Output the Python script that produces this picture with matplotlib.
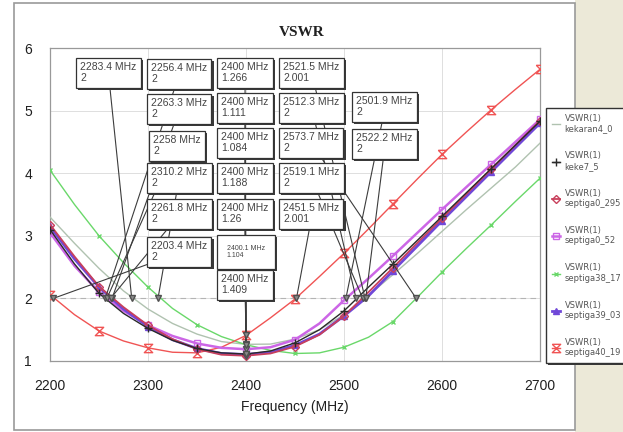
import matplotlib
matplotlib.use('Agg')
import matplotlib.pyplot as plt
import matplotlib.patheffects as pe
from matplotlib.patches import Rectangle

# frequency grid of the sweep (MHz)
freq = [2200, 2225, 2250, 2275, 2300, 2325, 2350, 2375, 2400, 2425, 2450,
        2475, 2500, 2525, 2550, 2575, 2600, 2625, 2650, 2675, 2700]

# VSWR values
kekaran4_0 = [3.30, 2.88, 2.48, 2.12, 1.83, 1.60, 1.43, 1.31, 1.266, 1.27, 1.35,
              1.50, 1.74, 2.05, 2.38, 2.72, 3.07, 3.42, 3.76, 4.10, 4.48]
keke7_5 = [3.10, 2.55, 2.08, 1.76, 1.52, 1.33, 1.20, 1.13, 1.111, 1.16, 1.29,
           1.50, 1.80, 2.18, 2.55, 2.93, 3.31, 3.69, 4.07, 4.45, 4.83]
septiga0_295 = [3.18, 2.67, 2.19, 1.86, 1.57, 1.35, 1.19, 1.10, 1.084, 1.12, 1.23,
                1.42, 1.72, 2.10, 2.49, 2.89, 3.28, 3.67, 4.06, 4.45, 4.84]
septiga0_52 = [3.05, 2.52, 2.10, 1.80, 1.57, 1.40, 1.28, 1.21, 1.188, 1.22, 1.34,
               1.60, 1.97, 2.32, 2.68, 3.05, 3.42, 3.78, 4.14, 4.50, 4.86]
septiga38_17 = [4.05, 3.50, 3.00, 2.57, 2.18, 1.84, 1.58, 1.39, 1.26, 1.17, 1.12,
                1.13, 1.22, 1.38, 1.63, 2.02, 2.42, 2.80, 3.17, 3.55, 3.92]
septiga39_03 = [3.15, 2.63, 2.18, 1.83, 1.55, 1.34, 1.20, 1.12, 1.104, 1.14, 1.25,
                1.43, 1.72, 2.04, 2.44, 2.84, 3.24, 3.63, 4.02, 4.41, 4.80]
septiga40_19 = [2.06, 1.74, 1.48, 1.32, 1.21, 1.14, 1.13, 1.22, 1.409, 1.69, 1.99,
                2.35, 2.72, 3.11, 3.51, 3.91, 4.30, 4.66, 5.01, 5.34, 5.66]

names = ['kekaran4_0', 'keke7_5', 'septiga0_295', 'septiga0_52',
         'septiga38_17', 'septiga39_03', 'septiga40_19']

# marker readouts
low_cross = [2283.4, 2256.4, 2263.3, 2258.0, 2310.2, 2261.8, 2203.4]
high_cross = [2521.5, 2512.3, 2573.7, 2519.1, 2451.5, 2501.9, 2522.2]
high_vals = ['2.001', '2', '2', '2', '2.001', '2', '2']
at_2400 = [1.266, 1.111, 1.084, 1.188, 1.26, 1.104, 1.409]

W, H = 623, 432
fig = plt.figure(figsize=(W / 100, H / 100), dpi=100)

# outer frame and beige panel on the right
fig.patches.append(Rectangle((575 / W, 0), 48 / W, 1, transform=fig.transFigure,
                             facecolor='#ece9d8', edgecolor='none', zorder=-2))
fig.patches.append(Rectangle((14 / W, 2 / H), 561 / W, 427 / H, transform=fig.transFigure,
                             facecolor='white', edgecolor='#9a9a9a', lw=1.2, zorder=-1))

ax = fig.add_axes([50 / W, 71 / H, 490 / W, 313 / H])
ax.patch.set_alpha(0)
ax.set_xlim(2200, 2700)
ax.set_ylim(1, 6)
ax.set_xticks([2200, 2300, 2400, 2500, 2600, 2700])
ax.set_yticks([1, 2, 3, 4, 5, 6])
ax.grid(True, color='#dedede', lw=0.7)
ax.set_axisbelow(True)
for s in ax.spines.values():
    s.set_color('#999999')
    s.set_linewidth(0.9)
ax.tick_params(length=0, labelsize=10)
ax.tick_params(axis='y', pad=13)
ax.tick_params(axis='x', pad=13)
for lab in ax.get_xticklabels() + ax.get_yticklabels():
    lab.set_fontfamily('Liberation Sans')
    lab.set_color('#202020')
ax.set_xlabel('Frequency (MHz)', fontsize=10, family='Liberation Sans', labelpad=5, color='#202020')
ax.axhline(2, color='#b4b4b4', lw=0.8, ls=(0, (5, 4)), zorder=1)

fig.text(302 / W, 1 - 32 / H, 'VSWR', ha='center', va='center', fontsize=11,
         family='Liberation Serif', weight='bold', color='#202020')

hourglass = [(-1, 1), (1, 1), (-1, -1), (1, -1), (-1, 1)]
styles = [
    dict(color='#b0c2b0', lw=1.0),
    dict(color='#2a2a2a', lw=1.0, marker='+', ms=6, markevery=2),
    dict(color='#c8405c', lw=1.3, marker='D', ms=4.5, mfc='none', markevery=2),
    dict(color='#cc66e6', lw=1.8, marker='s', ms=5, mfc='none', markevery=2),
    dict(color='#6ad86a', lw=1.0, marker='x', ms=3, markevery=2),
    dict(color='#7048d8', lw=2.0, marker='^', ms=5, markevery=2),
    dict(color='#f05454', lw=1.0, marker=hourglass, ms=6, mfc='none', markevery=2),
]
values = [kekaran4_0, keke7_5, septiga0_295, septiga0_52,
          septiga38_17, septiga39_03, septiga40_19]
order = [0, 4, 6, 3, 5, 2, 1]
lines = {}
for i in order:
    ln, = ax.plot(freq, values[i], label='VSWR(1)\n' + names[i], zorder=3, **styles[i])
    lines[i] = ln

# marker readout boxes: (top-left x, y in image pixels, box width)
low_pos = [(76, 58, 65), (147, 59, 64), (147, 94, 64), (149, 131, 53),
           (147, 163, 64), (147, 199, 64), (147, 237, 64)]
mid_pos = [(217, 58), (217, 93), (217, 128), (217, 163), (217, 199), (217, 235), (217, 270)]
high_pos = [(279, 58), (279, 93), (279, 128), (279, 163), (279, 199), (352, 92), (352, 129)]

shadow = [pe.SimplePatchShadow(offset=(1.6, -1.6), shadow_rgbFace='#3a3a3a', alpha=1.0), pe.Normal()]


def readout(txt, px, py, w, mx, my, size=7.5, pad=3):
    cx, cy = px + w / 2, H - (py + 16)
    ax.annotate('', xy=(mx, my), xytext=(cx, cy), textcoords='figure pixels',
                arrowprops=dict(arrowstyle='-', color='#3c3c3c', lw=0.8, shrinkA=0, shrinkB=0),
                zorder=4, annotation_clip=False)
    ax.plot([mx], [my], marker='v', ms=5, mfc='#8c8c8c', mec='#505050', zorder=5, clip_on=False)
    t = ax.text(px + pad * 1.39, H - py - pad * 1.39, txt, transform=None, ha='left', va='top',
                fontsize=size, family='Liberation Sans', color='#444444', linespacing=1.15,
                zorder=6, bbox=dict(boxstyle='square,pad=%.1f' % (pad / size), fc='white',
                                    ec='#333333', lw=0.9))
    t.get_bbox_patch().set_path_effects(shadow)


for i in range(7):
    px, py, w = low_pos[i]
    f = low_cross[i]
    readout('%g MHz\n2' % f, px, py, w, f, 2.0)
for i in range(7):
    px, py = mid_pos[i]
    if i == 5:
        readout('2400.1 MHz\n1.104', px, py, 56, 2400, at_2400[i], size=5.0, pad=7)
    else:
        readout('2400 MHz\n%g' % at_2400[i], px, py, 56, 2400, at_2400[i])
for i in range(7):
    px, py = high_pos[i]
    readout('%g MHz\n%s' % (high_cross[i], high_vals[i]), px, py, 66, high_cross[i], 2.0)

leg = fig.legend([lines[i] for i in range(7)], ['VSWR(1)\n' + n for n in names],
                 loc='upper left', bbox_to_anchor=(542 / W, 1 - 104 / H), fontsize=6,
                 handlelength=1.0, handletextpad=0.5, borderpad=0.7, labelspacing=2.15,
                 fancybox=False, framealpha=1, edgecolor='#333333', labelcolor='#555555')
leg.get_frame().set_linewidth(1.0)
leg.get_frame().set_path_effects(shadow)

fig.savefig('out.png', dpi=100)
